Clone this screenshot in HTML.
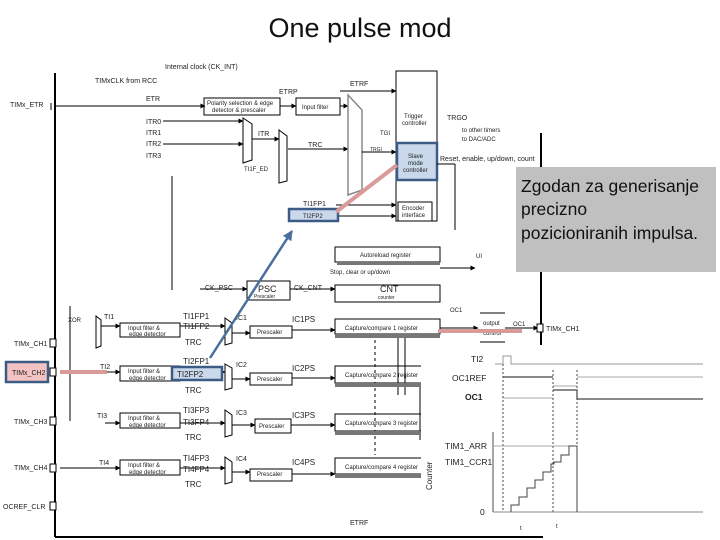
<!DOCTYPE html>
<html><head><meta charset="utf-8"><style>
body{margin:0;background:#fff;width:720px;height:540px;overflow:hidden}
svg{display:block}
text{font-family:"Liberation Sans",sans-serif;fill:#222}
.s{font-size:7px}
.m{font-size:9px}
</style></head><body>
<svg width="720" height="540" viewBox="0 0 720 540" xmlns="http://www.w3.org/2000/svg">
<defs><marker id="a" viewBox="0 0 10 10" refX="9" refY="5" markerWidth="5" markerHeight="5" orient="auto"><path d="M0,0L10,5L0,10z" fill="#000"/></marker>
<marker id="b" viewBox="0 0 10 10" refX="9" refY="5" markerWidth="4" markerHeight="4" orient="auto"><path d="M0,0L10,5L0,10z" fill="#4a6f9c"/></marker></defs>
<text x="360" y="37" font-size="27" text-anchor="middle" style="fill:#111">One pulse mod</text>
<g stroke="#000" fill="none">
<line x1="55" y1="73" x2="55" y2="537" stroke-width="2"/>
<line x1="541" y1="133" x2="541" y2="345" stroke-width="2"/>
<line x1="55" y1="106" x2="205" y2="106" marker-end="url(#a)"/>
<rect x="204" y="98" width="76" height="17"/>
<rect x="296" y="98" width="44" height="17"/>
<line x1="280" y1="106" x2="296" y2="106" marker-end="url(#a)"/>
<line x1="340" y1="106" x2="348" y2="106" marker-end="url(#a)"/>
<line x1="163" y1="121" x2="243" y2="121" marker-end="url(#a)"/>
<line x1="163" y1="144" x2="243" y2="144" marker-end="url(#a)"/>
<path d="M243,118L252,124L252,160L243,163z"/>
<path d="M279,130L287,136L287,181L279,183z"/>
<line x1="252" y1="139" x2="279" y2="139" marker-end="url(#a)"/>
<line x1="288" y1="149" x2="348" y2="149" marker-end="url(#a)"/>
<path d="M348,95L362,110L362,190L348,195z" stroke="#888" stroke-width="1.5"/>
<rect x="396" y="71" width="41" height="150"/>
<rect x="397" y="143" width="40" height="37" stroke="#3d5c85" stroke-width="2.5" fill="#c9d8ea"/>
<rect x="398" y="202" width="34" height="19"/>
<line x1="340" y1="91" x2="396" y2="91" marker-end="url(#a)"/>
<line x1="362" y1="152" x2="396" y2="152" marker-end="url(#a)"/>
<line x1="336" y1="205" x2="396" y2="205" marker-end="url(#a)"/>
<line x1="336" y1="216" x2="396" y2="216" marker-end="url(#a)"/>
<line x1="437" y1="164" x2="455" y2="164"/><line x1="455" y1="164" x2="455" y2="230"/>
<line x1="172" y1="176" x2="172" y2="290"/>
<rect x="335" y="247" width="105" height="15"/>
<rect x="335" y="285" width="105" height="17"/>
<rect x="247" y="281" width="43" height="19"/>
<line x1="200" y1="289" x2="247" y2="289" marker-end="url(#a)"/>
<line x1="290" y1="289" x2="335" y2="289" marker-end="url(#a)"/>
<line x1="440" y1="268" x2="475" y2="268" marker-end="url(#a)"/>
<rect x="335" y="319" width="105" height="15" fill="#fff"/>
<rect x="335" y="366" width="105" height="17"/>
<rect x="335" y="414" width="105" height="17"/>
<rect x="335" y="458" width="105" height="16"/>
<rect x="120" y="323" width="60" height="14"/>
<rect x="120" y="366" width="60" height="15"/>
<rect x="120" y="413" width="60" height="15"/>
<rect x="120" y="460" width="60" height="15"/>
<rect x="250" y="326" width="42" height="12"/>
<rect x="250" y="373" width="42" height="12"/>
<rect x="255" y="419" width="36" height="14"/>
<rect x="250" y="469" width="42" height="12"/>
<path d="M225,318L232,323L232,343L225,345z"/><path d="M225,364L232,368L232,388L225,390z"/>
<path d="M225,410L232,415L232,435L225,437z"/><path d="M225,457L232,462L232,482L225,484z"/>
<path d="M96,316L101,320L101,346L96,348z"/>
<line x1="101" y1="326" x2="120" y2="326" marker-end="url(#a)"/>
<line x1="60" y1="372" x2="120" y2="372" marker-end="url(#a)"/>
<line x1="105" y1="423" x2="120" y2="423" marker-end="url(#a)"/>
<line x1="60" y1="468" x2="120" y2="468" marker-end="url(#a)"/>
<line x1="70" y1="306" x2="70" y2="421"/>
<g marker-end="url(#a)">
<line x1="180" y1="326" x2="225" y2="326"/><line x1="180" y1="372" x2="225" y2="372"/><line x1="180" y1="423" x2="225" y2="423"/><line x1="180" y1="468" x2="225" y2="468"/>
<line x1="232" y1="333" x2="250" y2="333"/><line x1="232" y1="379" x2="250" y2="379"/><line x1="232" y1="425" x2="255" y2="425"/><line x1="232" y1="472" x2="250" y2="472"/>
<line x1="292" y1="330" x2="335" y2="330"/><line x1="292" y1="378" x2="335" y2="378"/><line x1="291" y1="425" x2="335" y2="425"/><line x1="292" y1="474" x2="335" y2="474"/>
<line x1="440" y1="328" x2="478" y2="328"/><line x1="505" y1="328" x2="538" y2="328"/>
</g>
<line x1="480" y1="313" x2="505" y2="313"/><line x1="480" y1="342" x2="505" y2="342"/>
<line x1="375" y1="334" x2="375" y2="455" stroke-dasharray="3,3"/>
<line x1="398" y1="334" x2="398" y2="395"/><line x1="405" y1="334" x2="405" y2="395"/>
<line x1="420" y1="383" x2="420" y2="440"/><line x1="427" y1="383" x2="427" y2="440"/>
<line x1="51" y1="103" x2="51" y2="110"/>
</g>
<g fill="#fff" stroke="#000"><rect x="50" y="339" width="6" height="8"/><rect x="50" y="368" width="6" height="8"/><rect x="50" y="417" width="6" height="8"/><rect x="50" y="464" width="6" height="8"/><rect x="50" y="502" width="6" height="8"/><rect x="537" y="324" width="6" height="8"/></g>
<g fill="#777"><rect x="335" y="334" width="105" height="4"/><rect x="335" y="383" width="105" height="4"/><rect x="335" y="431" width="105" height="4"/><rect x="335" y="474" width="105" height="4"/><rect x="337" y="262" width="103" height="3"/></g>
<text x="165" y="69" class="s">Internal clock (CK_INT)</text>
<text x="95" y="83" class="s">TIMxCLK from RCC</text>
<text x="10" y="107" class="s">TIMx_ETR</text>
<text x="146" y="101" class="s">ETR</text>
<text x="279" y="94" class="s">ETRP</text>
<text x="350" y="86" class="s">ETRF</text>
<text x="207" y="105" font-size="6">Polarity selection &amp; edge</text>
<text x="212" y="112" font-size="6">detector &amp; prescaler</text>
<text x="302" y="109" font-size="6">Input filter</text>
<text x="146" y="124" class="s">ITR0</text><text x="146" y="135" class="s">ITR1</text><text x="146" y="146" class="s">ITR2</text><text x="146" y="158" class="s">ITR3</text>
<text x="258" y="136" class="s">ITR</text><text x="308" y="147" class="s">TRC</text><text x="244" y="171" font-size="6">TI1F_ED</text>
<text x="380" y="135" font-size="6">TGI</text><text x="370" y="151" font-size="5">TRGI</text>
<text x="404" y="118" font-size="6">Trigger</text><text x="402" y="125" font-size="6">controller</text>
<text x="408" y="158" font-size="6">Slave</text><text x="408" y="165" font-size="6">mode</text><text x="403" y="172" font-size="6">controller</text>
<text x="402" y="210" font-size="6">Encoder</text><text x="402" y="217" font-size="6">interface</text>
<text x="447" y="120" class="s">TRGO</text>
<text x="462" y="132" font-size="6">to other timers</text><text x="462" y="141" font-size="6">to DAC/ADC</text>
<text x="440" y="161" font-size="7">Reset, enable, up/down, count</text>
<text x="303" y="206" class="s">TI1FP1</text>
<rect x="289" y="209" width="49" height="12" fill="#c9d8ea" stroke="#3d5c85" stroke-width="2.5"/>
<text x="303" y="218" font-size="6">TI2FP2</text>
<text x="360" y="257" font-size="6">Autoreload register</text>
<text x="330" y="274" font-size="6">Stop, clear or up/down</text>
<text x="476" y="258" font-size="6">UI</text>
<text x="205" y="290" class="s">CK_PSC</text><text x="294" y="290" class="s">CK_CNT</text>
<text x="258" y="292" class="m">PSC</text><text x="254" y="298" font-size="5">Prescaler</text>
<text x="380" y="292" class="m">CNT</text><text x="378" y="299" font-size="5">counter</text>
<text x="345" y="330" font-size="6">Capture/compare 1 register</text>
<text x="345" y="377" font-size="6">Capture/compare 2 register</text>
<text x="345" y="425" font-size="6">Capture/compare 3 register</text>
<text x="345" y="469" font-size="6">Capture/compare 4 register</text>
<text x="450" y="312" font-size="6">OC1</text><text x="513" y="326" font-size="6">OC1</text>
<text x="483" y="325" font-size="6">output</text><text x="483" y="335" font-size="6">control</text>
<text x="546" y="331" font-size="7">TIMx_CH1</text>
<text x="14" y="346" font-size="7">TIMx_CH1</text>
<rect x="6" y="362" width="42" height="20" fill="#f3c3c3" stroke="#3d5c85" stroke-width="2.5"/>
<text x="12" y="375" font-size="7">TIMx_CH2</text>
<text x="14" y="424" font-size="7">TIMx_CH3</text>
<text x="14" y="470" font-size="7">TIMx_CH4</text>
<text x="3" y="509" font-size="7">OCREF_CLR</text>
<text x="68" y="322" font-size="6">XOR</text>
<text x="104" y="319" class="s">TI1</text><text x="100" y="369" class="s">TI2</text><text x="97" y="418" class="s">TI3</text><text x="99" y="465" class="s">TI4</text>
<g font-size="6"><text x="128" y="330">Input filter &amp;</text><text x="129" y="336">edge detector</text>
<text x="128" y="373">Input filter &amp;</text><text x="129" y="380">edge detector</text>
<text x="128" y="420">Input filter &amp;</text><text x="129" y="427">edge detector</text>
<text x="128" y="467">Input filter &amp;</text><text x="129" y="474">edge detector</text>
<text x="257" y="334">Prescaler</text><text x="257" y="381">Prescaler</text><text x="259" y="428">Prescaler</text><text x="257" y="476">Prescaler</text></g>
<g font-size="8"><text x="183" y="319">TI1FP1</text><text x="183" y="329">TI1FP2</text><text x="185" y="345">TRC</text>
<text x="183" y="364">TI2FP1</text><text x="185" y="393">TRC</text>
<text x="183" y="413">TI3FP3</text><text x="183" y="425">TI3FP4</text><text x="185" y="440">TRC</text>
<text x="183" y="461">TI4FP3</text><text x="183" y="472">TI4FP4</text><text x="185" y="487">TRC</text>
<text x="292" y="322">IC1PS</text><text x="292" y="371">IC2PS</text><text x="292" y="418">IC3PS</text><text x="292" y="465">IC4PS</text>
<text x="236" y="320" font-size="7">IC1</text><text x="236" y="367" font-size="7">IC2</text><text x="236" y="415" font-size="7">IC3</text><text x="236" y="461" font-size="7">IC4</text></g>
<rect x="172" y="367" width="50" height="13" fill="#c9d8ea" stroke="#3d5c85" stroke-width="2.5"/>
<text x="177" y="377" font-size="8">TI2FP2</text>
<text x="350" y="525" font-size="7">ETRF</text>
<line x1="60" y1="372" x2="107" y2="372" stroke="#d99a9a" stroke-width="4"/>
<line x1="397" y1="165" x2="336" y2="212" stroke="#d99a9a" stroke-width="4"/>
<line x1="438" y1="331" x2="522" y2="331" stroke="#d99a9a" stroke-width="4"/>
<line x1="210" y1="358" x2="292" y2="231" stroke="#4a6f9c" stroke-width="2.5" marker-end="url(#b)"/>
<rect x="516" y="167" width="200" height="105" fill="#c0c0c0"/>
<g font-size="17.5"><text x="521" y="192" style="fill:#111">Zgodan za generisanje</text><text x="521" y="215" style="fill:#111">precizno</text><text x="521" y="239" style="fill:#111">pozicioniranih impulsa.</text></g>
<rect x="421" y="346" width="299" height="189" fill="#fff"/>
<line x1="55" y1="537" x2="543" y2="537" stroke="#000" stroke-width="2"/>
<g stroke="#444" fill="none">
<path d="M495,364L503,364L503,356L511,356L511,364L703,364" stroke="#999"/>
<path d="M503,377L553,377" stroke-width="1.2"/><line x1="577" y1="377" x2="703" y2="377" stroke="#aaa"/>
<line x1="553" y1="386" x2="577" y2="386" stroke="#aaa"/>
<path d="M553,390L577,390L577,399L703,399" stroke-width="1.2"/>
<line x1="503" y1="398" x2="553" y2="398" stroke="#aaa"/>
<line x1="503" y1="364" x2="503" y2="512" stroke-dasharray="2,2"/>
<line x1="553" y1="370" x2="553" y2="512" stroke-dasharray="2,2"/>
<line x1="577" y1="370" x2="577" y2="512" stroke-dasharray="2,2"/>
<line x1="493" y1="432" x2="493" y2="512" stroke="#888" stroke-width="1.5"/>
<line x1="493" y1="512" x2="703" y2="512" stroke="#888"/>
<line x1="493" y1="446" x2="577" y2="446" stroke="#aaa"/>
<path d="M511,512L511,505L519,505L519,497L527,497L527,488L535,488L535,480L543,480L543,472L551,472L551,464L554,464L554,462L561,462L561,455L569,455L569,446L577,446L577,512"/>
</g>
<g font-size="8.5"><text x="471" y="362">TI2</text><text x="452" y="381">OC1REF</text><text x="465" y="400" font-weight="bold">OC1</text>
<text x="445" y="449">TIM1_ARR</text><text x="445" y="465">TIM1_CCR1</text><text x="480" y="515">0</text>
<text x="520" y="530" font-size="6">t</text><text x="556" y="528" font-size="6">t</text></g>
<text x="432" y="490" font-size="8" transform="rotate(-90 432 490)">Counter</text>
</svg>
</body></html>
